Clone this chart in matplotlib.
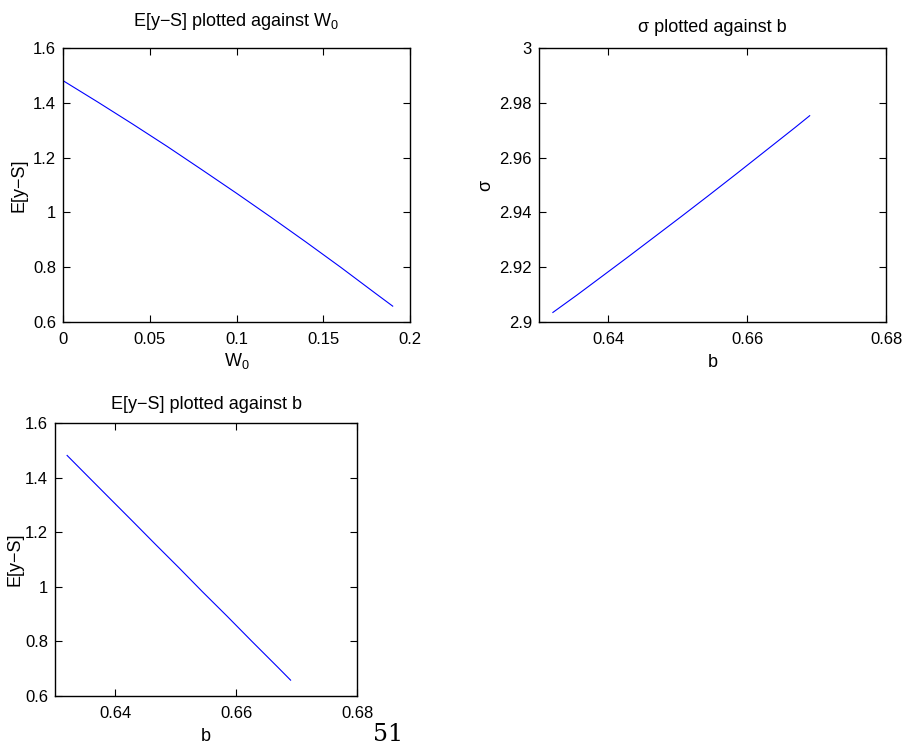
import matplotlib

matplotlib.use('Agg')
import matplotlib.pyplot as plt
from matplotlib.ticker import FuncFormatter

plt.rcParams['font.family'] = ['Liberation Sans', 'DejaVu Sans']
plt.rcParams['mathtext.fontset'] = 'custom'
plt.rcParams['mathtext.rm'] = 'Liberation Sans'
plt.rcParams['mathtext.it'] = 'Liberation Sans'

# values (same parameter sweep for all three panels)
w0 = [0.0, 0.02, 0.04, 0.06, 0.08, 0.10, 0.12, 0.14, 0.16, 0.18, 0.19]
b = [0.6320, 0.6355, 0.6391, 0.6428, 0.6466, 0.6505, 0.6544, 0.6585, 0.6626, 0.6669, 0.6690]
e_ys = [1.481, 1.403, 1.323, 1.241, 1.156, 1.070, 0.982, 0.892, 0.800, 0.705, 0.658]
sigma = [2.9035, 2.9099, 2.9167, 2.9237, 2.9310, 2.9385, 2.9461, 2.9542, 2.9624, 2.9710, 2.9753]

w0_ticks = [0, 0.05, 0.1, 0.15, 0.2]
b_ticks = [0.64, 0.66, 0.68]
e_ticks = [0.6, 0.8, 1.0, 1.2, 1.4, 1.6]
sigma_ticks = [2.9, 2.92, 2.94, 2.96, 2.98, 3.0]


def fmt(v, pos):
    return '%g' % round(v, 6)


def style(ax):
    ax.tick_params(direction='in', length=5, width=0.8, top=True, right=True, labelsize=12)
    ax.tick_params(axis='x', pad=7)
    ax.tick_params(axis='y', pad=5)
    for s in ax.spines.values():
        s.set_linewidth(1.0)
    ax.xaxis.set_major_formatter(FuncFormatter(fmt))
    ax.yaxis.set_major_formatter(FuncFormatter(fmt))


fig = plt.figure(figsize=(9.08, 7.47), dpi=100)

ax1 = fig.add_axes([0.0694, 0.5689, 0.3822, 0.3668])
ax1.plot(w0, e_ys, color='blue', linewidth=0.8)
ax1.set_xlim(0, 0.2)
ax1.set_ylim(0.6, 1.6)
ax1.set_xticks(w0_ticks)
ax1.set_yticks(e_ticks)
style(ax1)
ax1.set_title('E[y\u2212S] plotted against W$_0$', fontsize=13, pad=16)
ax1.set_xlabel('W$_0$', fontsize=13, labelpad=3)
ax1.set_ylabel('E[y\u2212S]', fontsize=13)

ax2 = fig.add_axes([0.5936, 0.5689, 0.3822, 0.3668])
ax2.plot(b, sigma, color='blue', linewidth=0.8)
ax2.set_xlim(0.63, 0.68)
ax2.set_ylim(2.9, 3.0)
ax2.set_xticks(b_ticks)
ax2.set_yticks(sigma_ticks)
style(ax2)
ax2.set_title('\u03c3 plotted against b', fontsize=13, pad=11.5)
ax2.set_xlabel('b', fontsize=13, labelpad=5.5)
ax2.set_ylabel('\u03c3', fontsize=13)

ax3 = fig.add_axes([0.0606, 0.0683, 0.3326, 0.3655])
ax3.plot(b, e_ys, color='blue', linewidth=0.8)
ax3.set_xlim(0.63, 0.68)
ax3.set_ylim(0.6, 1.6)
ax3.set_xticks(b_ticks)
ax3.set_yticks(e_ticks)
style(ax3)
ax3.set_title('E[y\u2212S] plotted against b', fontsize=13, pad=10)
ax3.set_xlabel('b', fontsize=13, labelpad=5)
ax3.set_ylabel('E[y\u2212S]', fontsize=13, labelpad=1)

# page number from the source document
fig.text(388 / 908, 0.001, '51', family='DejaVu Serif', fontsize=17, ha='center', va='bottom')

fig.savefig('out.png', dpi=100)
